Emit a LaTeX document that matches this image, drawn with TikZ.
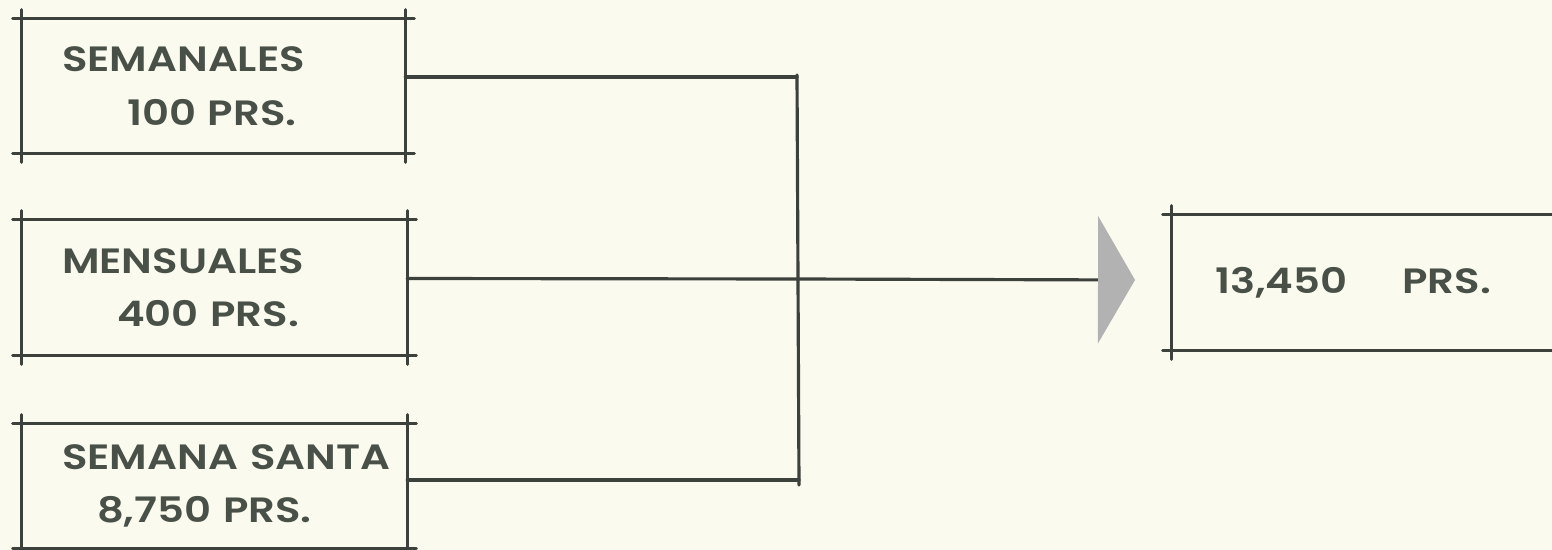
\documentclass[tikz,border=0pt]{standalone}
\usepackage{fontspec}
\setmainfont{Poppins}[BoldFont={Poppins SemiBold}, BoldFeatures={FakeStretch=1.19}]
\usepackage{xcolor}
\usepackage{tikz}
\usetikzlibrary{arrows.meta, positioning, calc}
\definecolor{paper}{RGB}{250,250,238}
\definecolor{ink}{RGB}{60,65,60}
\definecolor{lettering}{RGB}{72,80,72}
\tikzset{
  sketchbox/.style={
    rectangle, inner xsep=0pt, inner ysep=0pt, align=left,
    font=\fontsize{20}{30.5}\selectfont\bfseries, text=lettering
  },
  sketchline/.style={
    line width=1.8pt, color=ink, line cap=round
  },
  sketcharrow/.style={
    sketchline,
    -{Triangle[length=7.4mm, width=25.4mm, fill=gray!60, color=gray!60]}
  },
}

\begin{document}
\begin{tikzpicture}[x=0.02cm, y=-0.02cm]
  % === Paper ===
  \fill[paper] (0,0) rectangle (1552,550);
  \clip (0,0) rectangle (1552,550);

  % === Sources ===
  \node[sketchbox, minimum width=7.66cm, minimum height=2.68cm, text width=6.06cm] (sem) at (213.5, 86)
    {SEMANALES\\\hspace*{1.3cm}100 PRS.};
  \node[sketchbox, minimum width=7.7cm, minimum height=2.7cm, text width=6.1cm] (men) at (214.5, 287.5)
    {MENSUALES\\\hspace*{1.1cm}400 PRS.};
  \node[sketchbox, minimum width=7.7cm, minimum height=2.48cm, text width=6.1cm] (ss) at (214.5, 486)
    {\mbox{SEMANA\hspace{0.25cm}SANTA}\\\hspace*{0.7cm}8,750 PRS.};

  % === Total ===
  \node[sketchbox, minimum width=8.56cm, minimum height=2.7cm, text width=6.84cm] (tot) at (1386, 282.5)
    {\mbox{13,450\hspace{1.1cm}PRS.}};

  % === Box outlines, corners crossed ===
  \foreach \b in {sem, men, ss, tot} {
    \draw[sketchline] ([xshift=-0.18cm]\b.north west) -- ([xshift=0.18cm]\b.north east);
    \draw[sketchline] ([xshift=-0.18cm]\b.south west) -- ([xshift=0.18cm]\b.south east);
    \draw[sketchline] ([yshift=0.18cm]\b.north west) -- ([yshift=-0.18cm]\b.south west);
    \draw[sketchline] ([yshift=0.18cm]\b.north east) -- ([yshift=-0.18cm]\b.south east);
  }

  % === Collector ===
  \coordinate (jtop) at (797, 75);
  \coordinate (jbot) at (799, 485);
  \coordinate (join) at (798, 279);
  \draw[sketchline] (jtop) -- (jbot);
  \draw[sketchline] ($(sem.east)+(0,-9)$) -- (jtop |- 0,77);
  \draw[sketchline] ($(men.east)+(0,-9)$) -- (join);
  \draw[sketchline] ($(ss.east)+(0,-6)$) -- (jbot |- 0,480);

  % === Arrow to total ===
  \coordinate (tip) at (1135, 280);
  \draw[sketcharrow] (join) -- (tip);

\end{tikzpicture}
\end{document}
